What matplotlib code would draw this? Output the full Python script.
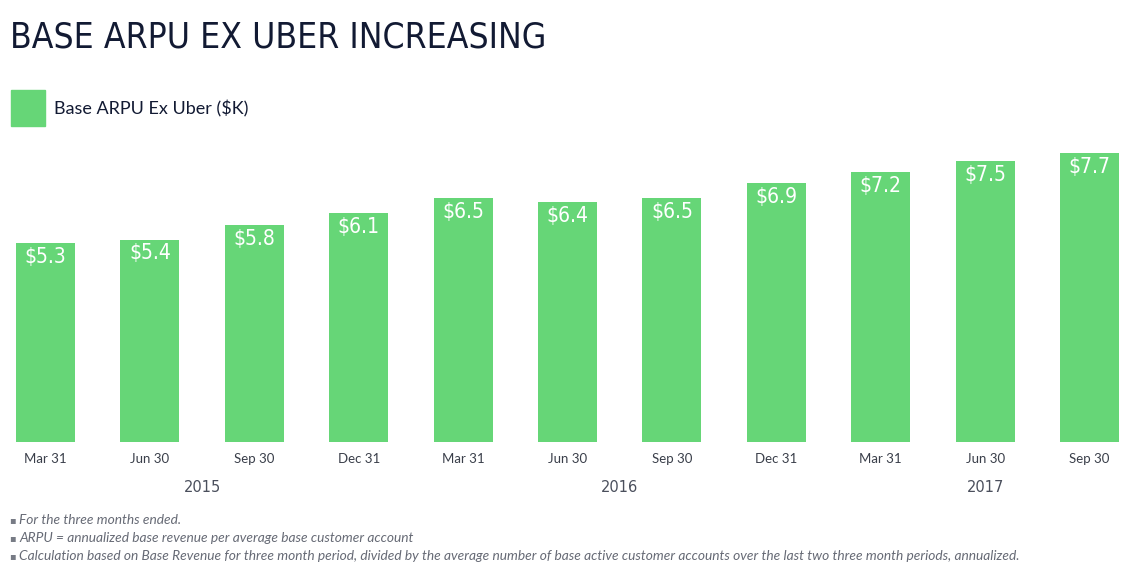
import matplotlib
matplotlib.use("Agg")
import matplotlib.pyplot as plt
import matplotlib.transforms as mtransforms
from matplotlib import font_manager as fm
import numpy as np

# dados
quarters = ["Mar 31", "Jun 30", "Sep 30", "Dec 31", "Mar 31", "Jun 30",
            "Sep 30", "Dec 31", "Mar 31", "Jun 30", "Sep 30"]
arpu = [5.3, 5.4, 5.8, 6.1, 6.5, 6.4, 6.5, 6.9, 7.2, 7.5, 7.7]
years = ["2015", "2016", "2017"]
year_groups = [(0, 3), (4, 7), (8, 10)]
footnotes = [
    "For the three months ended.",
    "ARPU = annualized base revenue per average base customer account",
    "Calculation based on Base Revenue for three month period, divided by the average number of base active customer accounts over the last two three month periods, annualized.",
]

green = "#66d677"
navy = "#121a33"

# procurar uma fonte condensada instalada
cond = None
for f in fm.fontManager.ttflist:
    name = f.name.lower()
    if ("narrow" in name or "condensed" in name or "condensed" in str(f.stretch)) \
            and f.style == "normal" and f.weight in (400, 500, "normal", "regular", "medium"):
        cond = f
        break
if cond is not None:
    cprop = dict(fontproperties=fm.FontProperties(fname=cond.fname))
else:
    cprop = dict(family="DejaVu Sans")

W, H = 1133, 571
fig = plt.figure(figsize=(W / 100, H / 100), dpi=100)
fig.patch.set_facecolor("white")
renderer = fig.canvas.get_renderer()


def fit(t, width, max_size):
    # ajustar o tamanho da fonte à largura desejada (em pixels)
    w = t.get_window_extent(renderer).width
    t.set_fontsize(min(max_size, t.get_fontsize() * width / w))


# eixo posicionado em pixels
ax = fig.add_axes([0, 129 / H, 1, (442 - 140) / H])
x = np.arange(len(arpu))
ax.bar(x, arpu, width=0.565, color=green)
ax.set_xlim(-45.5 / 104.4, (W - 45.5) / 104.4)
ax.set_ylim(0, 302 / 37.5)
for s in ax.spines.values():
    s.set_visible(False)
ax.set_yticks([])
ax.set_xticks(x, quarters)
ax.tick_params(axis="x", length=0, pad=8, labelsize=9.5, labelcolor="#3a3f4a")
for lbl in ax.get_xticklabels():
    lbl.set_family("Lato")

# rótulos de valor dentro das barras
for xi, v in zip(x, arpu):
    t = ax.annotate(f"${v:.1f}", (xi, v), xytext=(0, -4), textcoords="offset pixels",
                    ha="center", va="top", color="white", fontsize=20, **cprop)
    fit(t, 42, 24)

# anos
trans = mtransforms.blended_transform_factory(ax.transData, fig.transFigure)
for yr, (a, b) in zip(years, year_groups):
    t = ax.text((a + b) / 2, 1 - 488 / H, yr, transform=trans, ha="center", va="center",
                fontsize=12, color="#4a4f5c", **cprop)
    fit(t, 37, 14)

# título
t = fig.text(10 / W, 1 - 38 / H, "BASE ARPU EX UBER INCREASING", ha="left", va="center",
             fontsize=40, color=navy, **cprop)
fit(t, 535, 44)

# legenda
fig.patches.append(plt.Rectangle((11 / W, 1 - 126 / H), 34 / W, 36 / H,
                                 transform=fig.transFigure, color=green))
fig.text(54 / W, 1 - 109 / H, "Base ARPU Ex Uber ($K)", ha="left", va="center",
         fontsize=13, color=navy, family="Lato")

# notas de rodapé
for i, note in enumerate(footnotes):
    y = 1 - (520 + 18 * i) / H
    fig.text(9 / W, y, "\u25aa", ha="left", va="center", fontsize=7, color="#777b85")
    fig.text(19 / W, y, note, ha="left", va="center", fontsize=9.9, style="italic",
             color="#666a75", family="Lato")

fig.savefig("out.png", dpi=100)
